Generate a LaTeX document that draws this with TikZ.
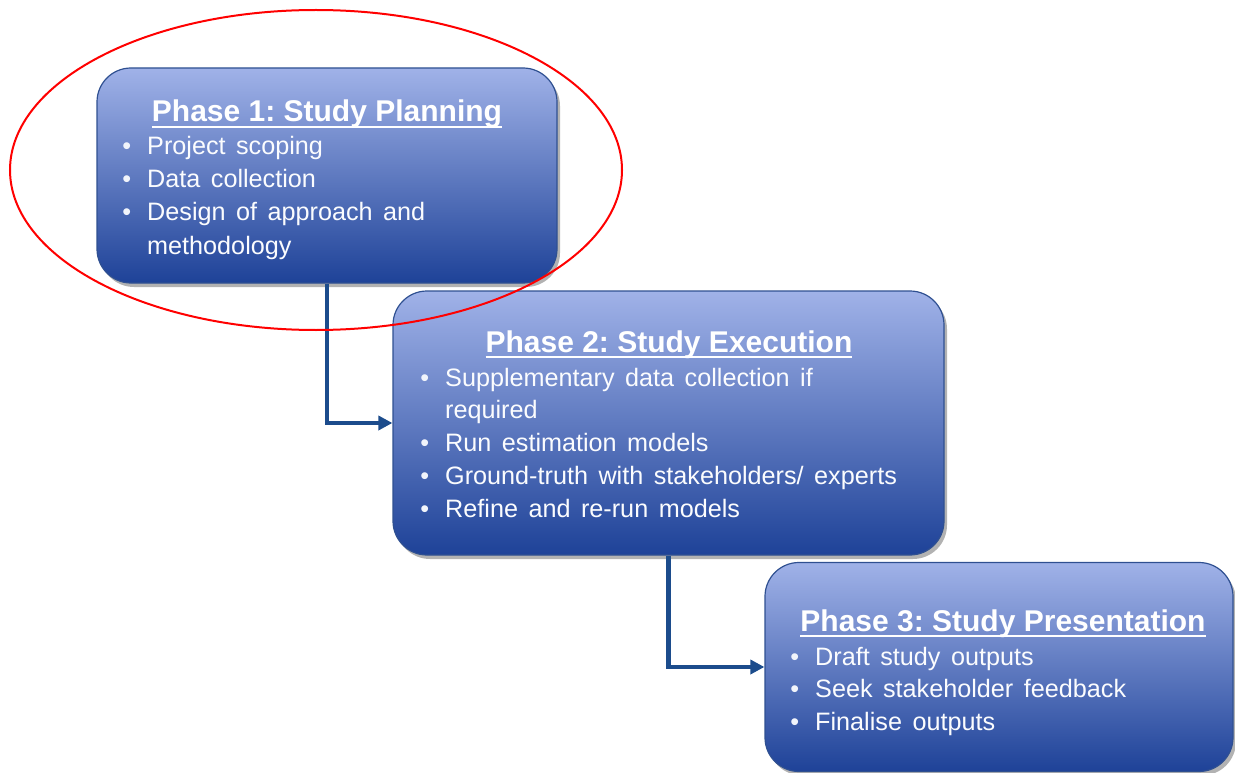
\documentclass[tikz,border=0pt]{standalone}
\usepackage{fontspec}
\setmainfont{Liberation Sans}
\usepackage{tikz}
\usetikzlibrary{arrows.meta,shadows}
\definecolor{boxtop}{RGB}{160,178,232}
\definecolor{boxbot}{RGB}{30,66,152}
\definecolor{boxedge}{RGB}{47,80,145}
\definecolor{linkblue}{RGB}{28,76,140}
\frenchspacing
\newcommand{\itemfont}{\fontsize{25.2}{30}\selectfont\spaceskip=10.5pt plus 1pt\relax}
\newcommand{\bul}{\llap{{\color{white!85!boxtop}\textbullet}\hspace{16pt}}}
\newcommand{\ulhead}[1]{\setbox0\hbox{#1}\rlap{\rule[-6pt]{\wd0}{2.2pt}}\box0}
\tikzset{
  phasebox/.style  = {draw=boxedge,line width=1.2pt,rounded corners=34pt,
                      top color=boxtop,bottom color=boxbot,inner sep=0pt,
                      drop shadow={shadow xshift=3pt,shadow yshift=-4pt,opacity=0.3,fill=black}},
  phasehead/.style = {anchor=base,text=white,font=\fontsize{30}{34}\selectfont\bfseries,inner sep=0pt},
  phaseitem/.style = {anchor=base west,text=white!96!boxtop,font=\itemfont,inner sep=0pt},
  link/.style      = {-{Triangle[length=14pt,width=14pt]},linkblue,line width=4.5pt}
}
\begin{document}
\begin{tikzpicture}[x=1pt,y=-1pt]
  \useasboundingbox (0,0) rectangle (1235,773);
  \node[phasebox,minimum width=460pt,minimum height=215pt] (plan) at (327,175.5) {};
  \node[phasebox,minimum width=551pt,minimum height=264pt] (exec) at (668.5,423) {};
  \node[phasebox,minimum width=468pt,minimum height=209pt] (pres) at (999,667) {};
  \draw[link] (plan.south) |- (exec.west);
  \draw[link] (exec.south) |- (pres.west);
  \node[phasehead] (planhd) at (327,122) {\ulhead{Phase 1: Study Planning}};
  \node[phaseitem] (plan1) at (147,155) {\bul Project scoping};
  \node[phaseitem] (plan2) at (147,188) {\bul Data collection};
  \node[phaseitem] (plan3) at (147,221) {\bul Design of approach and};
  \node[phaseitem] (plan4) at (147,254) {methodology};
  \node[phasehead] (exechd) at (669,352) {\ulhead{Phase 2: Study Execution}};
  \node[phaseitem] (exec1) at (445,386) {\bul Supplementary data collection if};
  \node[phaseitem] (exec2) at (445,418) {required};
  \node[phaseitem] (exec3) at (445,451) {\bul Run estimation models};
  \node[phaseitem] (exec4) at (445,484) {\bul Ground-truth with stakeholders/ experts};
  \node[phaseitem] (exec5) at (445,517) {\bul Refine and re-run models};
  \node[phasehead] (preshd) at (1003,631) {\ulhead{Phase 3: Study Presentation}};
  \node[phaseitem] (pres1) at (815,665) {\bul Draft study outputs};
  \node[phaseitem] (pres2) at (815,697) {\bul Seek stakeholder feedback};
  \node[phaseitem] (pres3) at (815,730) {\bul Finalise outputs};
  \draw[red,line width=2pt] (316,170) ellipse [x radius=306pt,y radius=160pt];
\end{tikzpicture}
\end{document}
